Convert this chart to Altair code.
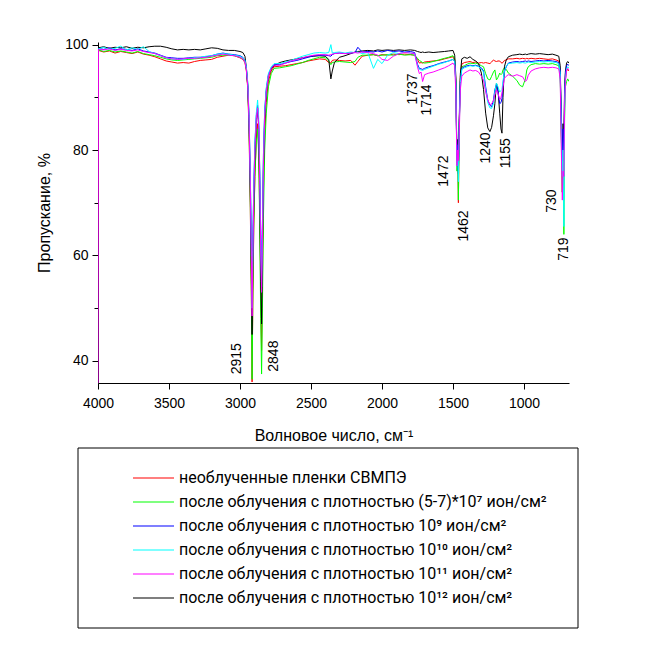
import altair as alt
import pandas as pd

# ---------------- data ----------------
wavenumber = [
    4000, 3997, 3960, 3920, 3880, 3840, 3800, 3760, 3720, 3680, 3640, 3600, 3560, 3520, 3480,
    3440, 3400, 3360, 3320, 3280, 3240, 3200, 3160, 3120, 3080, 3040, 3000,
    2980, 2965, 2955, 2945, 2936, 2928, 2920, 2915, 2910, 2903, 2895, 2885, 2876, 2868, 2860,
    2854, 2848, 2842, 2835, 2826, 2815, 2800, 2780, 2760,
    2720, 2680, 2640, 2600, 2560, 2520, 2480, 2440, 2400, 2375, 2360, 2350, 2335, 2300, 2260,
    2220, 2190, 2170, 2140, 2100, 2060, 2030, 2000, 1960, 1920, 1880, 1840, 1800, 1770,
    1750, 1737, 1725, 1714, 1700, 1670, 1640, 1600, 1560, 1530, 1500,
    1488, 1480, 1472, 1467, 1462, 1456, 1448, 1438,
    1420, 1400, 1380, 1360, 1340, 1320, 1300, 1285, 1270, 1255, 1240, 1228, 1215, 1205, 1194,
    1183, 1171, 1162, 1155, 1148, 1138, 1125, 1110,
    1080, 1050, 1030, 1010, 990, 980, 970, 950, 920, 890, 860, 830, 800, 775, 755,
    745, 737, 730, 725, 719, 714, 708, 700, 692, 683,
]

red_vals = [
    98.9, 98.9, 98.6, 98.8, 98.4, 98.7, 98.5, 98.3, 98.6, 98.2, 98.0, 97.7, 97.3, 96.9, 96.7,
    96.5, 96.6, 96.5, 96.8, 97.0, 97.1, 97.2, 97.6, 97.8, 98.0, 97.9, 97.5,
    97.2, 96.6, 95.0, 91.5, 83.0, 70.0, 52.0, 36.0, 50.0, 65.0, 75.0, 82.0, 85.0, 80.0, 66.0,
    52.0, 42.0, 55.0, 72.0, 83.0, 89.0, 93.0, 95.0, 95.8,
    95.9, 96.0, 96.2, 96.4, 96.6, 96.9, 97.1, 97.3, 97.2, 96.6, 96.5, 97.0, 97.1, 97.0, 96.9,
    97.0, 96.1, 96.8, 97.8, 98.0, 98.1, 97.9, 98.1, 98.0, 98.2, 98.1, 98.2, 98.1, 98.0,
    97.2, 96.5, 96.6, 96.5, 96.7, 96.8, 96.9, 97.0, 97.3, 97.5, 97.7,
    97.0, 93.0, 77.0, 80.0, 70.0, 85.0, 94.0, 96.3,
    96.6, 96.7, 96.8, 96.6, 96.7, 96.5, 96.6, 96.5, 96.6, 96.5, 96.4, 96.7, 97.1, 96.9, 96.8,
    96.9, 96.9, 96.6, 96.5, 96.6, 97.0, 97.1, 97.3,
    97.3, 97.4, 97.3, 97.4, 97.3, 97.4, 97.3, 97.4, 97.3, 97.4, 97.3, 97.2, 97.3, 97.1, 96.9,
    95.0, 83.0, 72.0, 80.0, 76.0, 90.0, 93.5, 95.0, 95.3, 95.0,
]

green_vals = [
    99.0, 99.0, 98.7, 98.9, 98.6, 98.8, 98.6, 98.4, 98.7, 98.3, 98.1, 97.9, 97.6, 97.3, 97.1,
    97.0, 97.1, 97.2, 97.3, 97.4, 97.5, 97.6, 97.9, 98.0, 98.0, 97.9, 97.6,
    97.3, 96.8, 95.3, 92.0, 84.0, 71.0, 53.0, 36.5, 51.0, 66.0, 75.0, 81.5, 84.0, 79.0, 63.0,
    48.0, 37.5, 50.0, 67.0, 80.0, 87.0, 92.0, 94.5, 95.5,
    95.6, 95.8, 96.0, 96.3, 96.6, 97.0, 97.3, 97.6, 97.5, 96.9, 96.2, 96.6, 96.7, 96.8, 96.7,
    96.6, 96.8, 97.6, 98.0, 98.0, 98.1, 97.9, 98.0, 98.1, 98.0, 98.2, 98.0, 98.1, 98.0,
    97.4, 97.0, 96.8, 96.6, 96.5, 96.6, 96.8, 97.1, 97.4, 97.6, 97.9,
    97.2, 93.0, 76.0, 79.0, 70.5, 84.0, 93.5, 95.8,
    96.0, 96.3, 96.5, 96.4, 96.5, 96.3, 96.0, 95.8, 94.5, 93.5, 93.3, 94.0, 94.8, 95.2, 93.3,
    93.8, 94.6, 94.3, 94.5, 95.2, 95.6, 95.3, 94.6,
    94.0, 93.2, 92.3, 92.0, 93.5, 95.2, 95.8, 96.2, 96.4, 96.3, 96.4, 96.3, 96.4, 96.2, 96.0,
    94.0, 82.0, 72.0, 78.0, 64.0, 86.0, 92.0, 93.0, 93.5, 93.0,
]

blue_vals = [
    99.3, 99.3, 99.1, 99.4, 99.0, 99.2, 99.1, 98.9, 99.2, 98.8, 98.6, 98.4, 98.0, 97.6, 97.5,
    97.4, 97.4, 97.5, 97.6, 97.6, 97.7, 97.9, 98.2, 98.4, 98.2, 98.1, 97.9,
    97.6, 97.0, 95.6, 92.5, 86.0, 76.0, 63.0, 52.0, 62.0, 73.0, 81.0, 86.5, 88.5, 85.0, 75.0,
    64.0, 57.0, 66.0, 79.0, 87.5, 91.5, 94.3, 95.6, 96.2,
    96.2, 96.5, 96.8, 97.0, 97.3, 97.6, 97.9, 98.0, 98.0, 97.9, 97.8, 98.1, 98.3, 98.4, 98.3,
    98.4, 98.5, 99.5, 98.6, 98.7, 98.6, 98.8, 98.6, 98.9, 98.7, 98.8, 98.6, 98.7, 98.5,
    96.3, 95.5, 95.4, 95.3, 95.5, 95.8, 96.0, 96.4, 96.7, 96.9, 97.2,
    96.8, 92.5, 78.0, 81.0, 75.5, 85.0, 93.0, 95.5,
    95.8, 96.0, 96.1, 96.0, 96.1, 95.9, 95.6, 95.0, 92.0, 89.5, 88.5, 88.2, 89.5, 91.5, 92.4,
    91.0, 88.8, 89.0, 89.8, 92.5, 94.8, 95.8, 96.5,
    96.7, 96.8, 96.7, 96.8, 96.9, 96.8, 96.9, 96.8, 96.9, 97.0, 96.9, 97.0, 96.9, 96.8, 96.6,
    95.0, 86.0, 78.0, 84.0, 80.0, 91.0, 94.5, 96.0, 96.3, 96.0,
]

cyan_vals = [
    99.2, 99.2, 99.5, 99.1, 99.3, 99.7, 99.0, 99.4, 99.1, 99.6, 98.7, 98.3, 97.9, 97.5, 97.3,
    97.2, 97.2, 97.4, 97.5, 97.6, 97.8, 97.9, 98.2, 98.3, 98.2, 98.0, 97.8,
    97.5, 97.0, 95.7, 92.8, 86.5, 76.0, 62.0, 50.0, 61.0, 73.0, 81.5, 87.0, 89.5, 86.0, 74.0,
    62.0, 54.0, 64.0, 78.0, 87.5, 91.8, 94.5, 95.8, 96.4,
    96.4, 96.7, 97.0, 97.4, 97.8, 98.1, 98.4, 98.5, 98.4, 98.5, 100.0, 98.4, 98.5, 98.6, 98.4,
    98.6, 98.5, 98.6, 98.3, 98.5, 95.5, 97.2, 96.4, 98.0, 98.5, 98.3, 98.6, 98.4, 98.2,
    96.0, 95.3, 95.2, 95.1, 95.3, 95.6, 95.9, 96.3, 96.6, 96.9, 97.2,
    96.8, 92.5, 77.0, 80.0, 74.0, 84.5, 92.8, 95.3,
    95.6, 95.8, 96.0, 95.9, 96.0, 95.8, 95.4, 94.8, 91.5, 89.0, 88.0, 87.9, 88.8, 91.0, 92.7,
    92.0, 91.0, 91.3, 91.5, 93.0, 95.0, 95.9, 96.4,
    96.5, 96.6, 96.5, 96.6, 96.5, 96.6, 96.7, 96.6, 96.7, 96.8, 96.7, 96.8, 96.7, 96.6, 96.4,
    94.5, 84.0, 75.0, 80.0, 65.5, 88.0, 93.5, 95.5, 95.8, 95.5,
]

magenta_vals = [
    30.0, 99.1, 99.0, 99.2, 98.9, 99.1, 98.9, 98.8, 99.0, 98.7, 98.5, 98.3, 97.9, 97.5, 97.3,
    97.2, 97.3, 97.4, 97.4, 97.5, 97.6, 97.8, 98.0, 98.2, 98.0, 97.9, 97.6,
    97.3, 96.7, 95.2, 92.0, 85.5, 74.5, 60.0, 48.5, 59.0, 71.0, 80.0, 86.0, 88.0, 84.5, 72.5,
    61.0, 53.0, 63.0, 77.0, 86.5, 91.0, 94.0, 95.5, 96.1,
    96.1, 96.5, 96.9, 97.2, 97.5, 97.8, 98.0, 98.1, 98.1, 98.0, 98.1, 98.2, 98.3, 98.4, 98.3,
    98.4, 98.5, 98.4, 98.6, 98.5, 98.3, 98.0, 97.2, 97.0, 97.8, 98.3, 98.5, 98.4, 98.3,
    95.8, 94.5, 94.8, 93.0, 94.3, 94.6, 94.8, 95.2, 95.6, 96.0, 96.5,
    96.0, 91.0, 77.0, 80.0, 78.0, 83.0, 91.5, 94.0,
    94.6, 94.9, 95.2, 95.0, 95.1, 94.8, 94.0, 93.3, 91.0, 89.5, 88.6, 88.8, 89.3, 90.5, 91.4,
    90.8, 89.5, 90.0, 90.8, 92.0, 93.6, 94.0, 94.3,
    94.0, 94.3, 94.1, 93.9, 93.0, 93.3, 94.2, 95.0, 95.4, 95.6, 95.7, 95.6, 95.7, 95.6, 95.4,
    93.5, 80.0, 70.5, 76.0, 75.0, 88.0, 93.0, 95.2, 95.5, 95.2,
]

black_vals = [
    99.4, 99.4, 99.6, 99.3, 99.5, 99.4, 99.6, 99.3, 99.5, 99.4, 99.6, 99.7, 99.7, 99.5, 99.2,
    99.0, 99.1, 99.0, 99.1, 99.0, 99.2, 99.4, 99.3, 99.0, 98.9, 98.9, 98.7,
    98.5, 97.8, 95.5, 92.0, 85.0, 73.0, 57.0, 45.0, 58.0, 70.0, 79.0, 85.5, 88.0, 84.0, 70.0,
    55.0, 47.0, 60.0, 76.0, 86.0, 91.0, 94.0, 95.4, 96.0,
    96.6, 96.9, 97.1, 97.3, 97.5, 97.7, 97.8, 97.9, 97.8, 97.2, 93.5, 95.0, 96.6, 97.6, 97.9,
    98.3, 98.6, 98.7, 98.8, 98.9, 98.8, 99.0, 98.9, 99.0, 98.9, 99.0, 98.9, 99.0, 98.9,
    98.7, 98.6, 98.5, 98.6, 98.5, 98.6, 98.5, 98.6, 98.7, 98.8, 98.9,
    98.0, 94.0, 78.0, 82.0, 76.0, 86.0, 94.5, 97.3,
    97.6, 97.4, 97.7, 97.2, 96.9, 96.4, 94.6, 91.5, 87.0, 84.2, 83.5, 84.3, 86.5, 88.8, 92.7,
    91.4, 87.0, 84.0, 83.2, 90.0, 95.8, 97.1, 97.7,
    98.0, 98.1, 98.2, 98.1, 98.2, 98.1, 98.2, 98.3, 98.2, 98.3, 98.2, 98.1, 98.2, 98.0, 97.8,
    96.0, 86.0, 78.0, 85.0, 82.0, 92.0, 95.0, 96.5, 96.8, 96.5,
]

series_names = [
    "необлученные пленки СВМПЭ",
    "после облучения с плотностью (5-7)*10⁷ ион/см²",
    "после облучения с плотностью 10⁹ ион/см²",
    "после облучения с плотностью 10¹⁰ ион/см²",
    "после облучения с плотностью 10¹¹ ион/см²",
    "после облучения с плотностью 10¹² ион/см²",
]
series_colors = ["#ff0000", "#00ff00", "#0000ff", "#00ffff", "#ff00ff", "#000000"]
series_values = [red_vals, green_vals, blue_vals, cyan_vals, magenta_vals, black_vals]

# peak annotations (label text, anchor wavenumber, anchor transmission)
peak_labels = ["2915", "2848", "1737", "1714", "1472", "1462", "1240", "1155", "730", "719"]
peak_label_x = [3023, 2763, 1784, 1685, 1566, 1425, 1270, 1129, 805, 720]
peak_label_y = [40.4, 40.9, 91.6, 89.5, 76.0, 65.6, 80.4, 79.4, 70.3, 61.2]

x_ticks = [4000, 3750, 3500, 3250, 3000, 2750, 2500, 2250, 2000, 1750, 1500, 1250, 1000, 750]
y_ticks = [40, 50, 60, 70, 80, 90, 100]

# ---------------- chart ----------------
FONT = "Liberation Sans"
LEGEND_FONT = "Roboto"

x_scale = alt.Scale(domain=[4000, 683], nice=False, zero=False)
y_scale = alt.Scale(domain=[35.8, 100.5], nice=False, zero=False)
color_scale = alt.Scale(domain=series_names, range=series_colors)

x_axis = alt.Axis(
    title="Волновое число, см⁻¹",
    values=x_ticks,
    format="d",
    labelExpr="datum.value % 500 === 0 ? datum.label : ''",
    tickSize={"condition": {"test": "datum.value % 500 === 0", "value": 6}, "value": 4},
    labelOverlap=False,
    labelFlush=False,
    labelPadding=7,
    titlePadding=17,
    grid=False,
)
y_axis = alt.Axis(
    title="Пропускание, %",
    values=y_ticks,
    format="d",
    labelExpr="datum.value % 20 === 0 ? datum.label : ''",
    tickSize={"condition": {"test": "datum.value % 20 === 0", "value": 6}, "value": 4},
    labelOverlap=False,
    labelFlush=False,
    labelPadding=4,
    titlePadding=12,
    grid=False,
)

legend = alt.Legend(
    orient="none",
    legendX=47.5,
    legendY=428,
    title=None,
    symbolType="M-4.1,0H4.1",
    symbolSize=100,
    symbolStrokeWidth=1.2,
    labelFontSize=16,
    labelFont=LEGEND_FONT,
    labelColor="#000000",
    labelOffset=17.5,
    labelLimit=600,
    rowPadding=8,
    padding=0,
)

draw_order = [0, 1, 5, 2, 3, 4]  # red, green, black, blue, cyan, magenta on top
layers = []
for i in draw_order:
    df = pd.DataFrame({"wn": wavenumber, "T": series_values[i], "series": series_names[i]})
    layers.append(
        alt.Chart(df)
        .mark_line(strokeWidth=1, clip=True)
        .encode(
            x=alt.X("wn:Q", scale=x_scale, axis=x_axis),
            y=alt.Y("T:Q", scale=y_scale, axis=y_axis),
            color=alt.Color("series:N", scale=color_scale, legend=legend),
        )
    )

labels_df = pd.DataFrame({"label": peak_labels, "wn": peak_label_x, "T": peak_label_y})
peak_text = (
    alt.Chart(labels_df)
    .mark_text(angle=270, align="center", baseline="middle", fontSize=14, font=FONT, color="#000000")
    .encode(x=alt.X("wn:Q", scale=x_scale), y=alt.Y("T:Q", scale=y_scale), text="label:N")
)

legend_box = (
    alt.Chart(pd.DataFrame({"k": [0]}))
    .mark_rect(fill="transparent", stroke="#000000", strokeWidth=1)
    .encode(x=alt.value(-20), x2=alt.value(480), y=alt.value(406), y2=alt.value(586))
)

chart = (
    alt.layer(*layers, peak_text, legend_box)
    .properties(
        width=471,
        height=341,
        autosize=alt.AutoSizeParams(type="none"),
        padding={"left": 90, "top": 34, "right": 77, "bottom": 262},
    )
    .configure(font=FONT)
    .configure_view(strokeWidth=0)
    .configure_axis(
        labelFont=FONT,
        titleFont=FONT,
        labelFontSize=14,
        titleFontSize=16,
        titleFontWeight="normal",
        labelColor="#000000",
        titleColor="#000000",
        domainColor="#000000",
        tickColor="#000000",
        domainWidth=1,
        tickWidth=1,
    )
)

chart.save("out.html", embed_options={"renderer": "svg", "actions": False})
